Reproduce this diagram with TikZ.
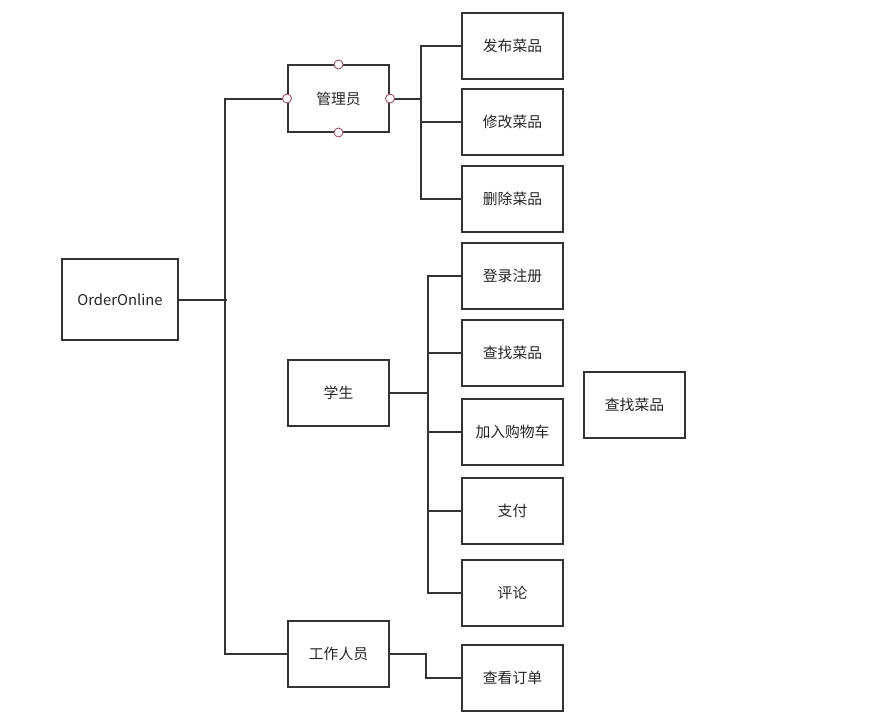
\documentclass[tikz,border=0pt]{standalone}
\usepackage{fontspec}
\setmainfont{Noto Sans CJK SC}
\usetikzlibrary{positioning}
\definecolor{linegray}{RGB}{51,51,51}
\definecolor{dotred}{RGB}{160,80,95}
\tikzstyle{funcbox}=[draw=linegray, line width=2pt, fill=white,
					minimum width=101pt, minimum height=66pt, inner sep=0pt,
					font=\fontsize{14.8}{17}\selectfont, text=black!85]

\begin{document}
\begin{tikzpicture}[x=1pt, y=-1pt,
rootbox/.style={funcbox, minimum width=116pt, minimum height=81pt},
link/.style={draw=linegray, line width=2pt},
handle/.style={draw=dotred, fill=white, line width=0.9pt},
]
\useasboundingbox (0,0) rectangle (889,725);

%Nodes
\node[rootbox]  (order_node)   at (120,299.5) {OrderOnline};

\node[funcbox]  (admin_node)   at (338.5,98.5) {管理员};
\node[funcbox]  (student_node) at (338.5,393)  {学生};
\node[funcbox]  (staff_node)   at (338.5,654)  {工作人员};

\node[funcbox]  (publish_node) at (512.5,46)   {发布菜品};
\node[funcbox]  (modify_node)  at (512.5,122)  {修改菜品};
\node[funcbox]  (delete_node)  at (512.5,199)  {删除菜品};
\node[funcbox]  (login_node)   at (512.5,276)  {登录注册};
\node[funcbox]  (search_node)  at (512.5,353)  {查找菜品};
\node[funcbox]  (cart_node)    at (512.5,432)  {加入购物车};
\node[funcbox]  (pay_node)     at (512.5,510.5) {支付};
\node[funcbox]  (review_node)  at (512.5,593)  {评论};
\node[funcbox]  (orders_node)  at (512.5,678)  {查看订单};

\node[funcbox]  (lookup_node)  at (634.5,405)  {查找菜品};

%Lines
\draw[link] (order_node.east) -- ++(48,0);
\draw[link] (admin_node.west) -- ++(-62,0) |- (staff_node.west);

\draw[link] (admin_node.east) -- ++(31,0) coordinate (admin_fork);
\foreach \n in {publish,modify,delete}
  \draw[link] (admin_fork) |- (\n_node.west);

\draw[link] (student_node.east) -- ++(38,0) coordinate (student_fork);
\foreach \n in {login,search,cart,pay,review}
  \draw[link] (student_fork) |- (\n_node.west);

\draw[link] (staff_node.east) -- ++(36,0) |- (orders_node.west);

%Handles
\foreach \a in {north,south,east,west}
  \draw[handle] (admin_node.\a) circle (4.5);

\end{tikzpicture}
\end{document}
